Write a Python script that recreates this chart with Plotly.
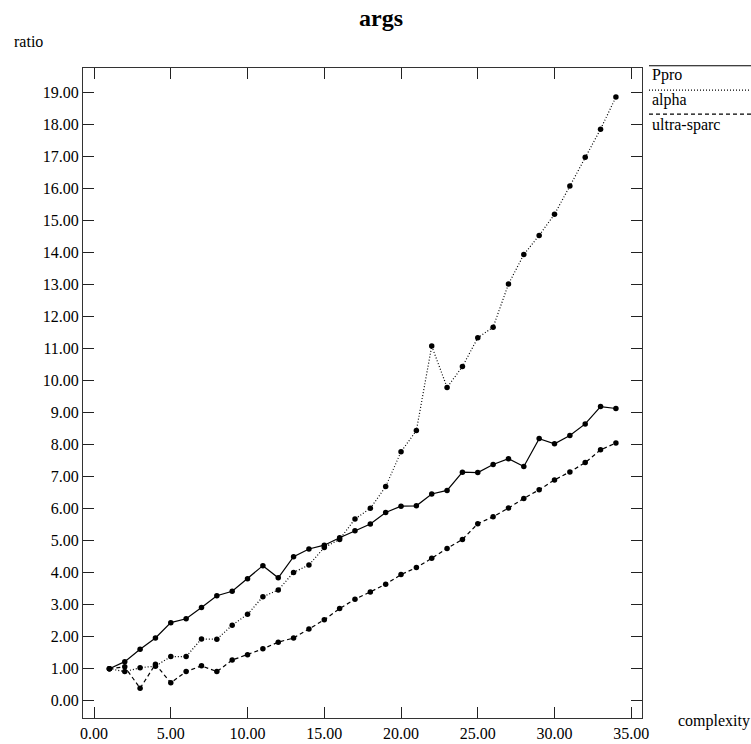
import plotly.graph_objects as go

# complexity levels (x) and measured ratios per machine
complexity = list(range(1, 35))

ppro = [1.00, 1.22, 1.61, 1.96, 2.44, 2.56, 2.91, 3.28, 3.42, 3.81,
        4.22, 3.84, 4.50, 4.74, 4.86, 5.09, 5.31, 5.52, 5.88, 6.08,
        6.09, 6.46, 6.57, 7.14, 7.13, 7.38, 7.56, 7.32, 8.19, 8.03,
        8.29, 8.65, 9.19, 9.13]

alpha = [1.00, 0.91, 1.03, 1.08, 1.38, 1.38, 1.93, 1.92, 2.36, 2.70,
         3.25, 3.46, 4.01, 4.24, 4.79, 5.04, 5.68, 6.01, 6.69, 7.78,
         8.44, 11.08, 9.79, 10.44, 11.34, 11.67, 13.02, 13.94, 14.54, 15.20,
         16.08, 16.98, 17.86, 18.86]

ultra_sparc = [1.00, 1.06, 0.39, 1.14, 0.56, 0.91, 1.09, 0.91, 1.27, 1.44,
               1.62, 1.83, 1.96, 2.24, 2.53, 2.88, 3.17, 3.40, 3.64, 3.94,
               4.16, 4.45, 4.76, 5.04, 5.53, 5.75, 6.02, 6.32, 6.59, 6.90,
               7.15, 7.44, 7.84, 8.05]

series_names = ["Ppro", "alpha", "ultra-sparc"]
series_dash = ["solid", "1px,2px", "4px,3px"]

x_ticks = [0, 5, 10, 15, 20, 25, 30, 35]
y_ticks = list(range(0, 20))

FONT = "Liberation Serif, Times New Roman, serif"

fig = go.Figure()
for name, vals, dash in zip(series_names, [ppro, alpha, ultra_sparc], series_dash):
    fig.add_trace(go.Scatter(
        x=complexity, y=vals, name=name, mode="lines+markers",
        line=dict(color="black", width=1.2, dash=dash),
        marker=dict(color="black", size=5.5),
        showlegend=False,
    ))

axis_common = dict(
    showgrid=False, zeroline=False, showline=True, mirror="ticks",
    linecolor="#333", linewidth=1, ticks="inside", ticklen=11,
    tickwidth=1, tickcolor="#222", automargin=False,
    tickfont=dict(family=FONT, size=16, color="black"),
)

fig.update_xaxes(range=[-0.72, 35.7], tickvals=x_ticks,
                 ticktext=[f"{v:.2f}" for v in x_ticks],
                 ticklabelstandoff=1, **axis_common)
fig.update_yaxes(range=[-0.54, 19.77], tickvals=y_ticks,
                 ticktext=[f"{v:.2f}" for v in y_ticks], **axis_common)

# legend drawn at the top right, outside the frame
legend_y_line = [1.0035, 0.966, 0.929]
legend_y_text = [0.989, 0.951, 0.913]
for name, dash, yl, yt in zip(series_names, series_dash, legend_y_line, legend_y_text):
    fig.add_shape(type="line", xref="paper", yref="paper",
                  x0=1.0125, x1=1.2, y0=yl, y1=yl,
                  line=dict(color="black", width=1.1, dash=dash))
    fig.add_annotation(text=name, xref="paper", yref="paper",
                       x=1.0143, y=yt, xanchor="left", yanchor="middle",
                       showarrow=False,
                       font=dict(family=FONT, size=16, color="black"))

fig.add_annotation(text="ratio", xref="paper", yref="paper",
                   x=-0.127, y=1.04, xanchor="left", yanchor="middle",
                   showarrow=False, font=dict(family=FONT, size=16, color="black"))
fig.add_annotation(text="complexity", xref="paper", yref="paper",
                   x=1.0608, y=-0.004, xanchor="left", yanchor="middle",
                   showarrow=False, font=dict(family=FONT, size=16, color="black"))

fig.update_layout(
    width=751, height=744,
    margin=dict(l=83, r=109, t=68, b=26, autoexpand=False),
    paper_bgcolor="white", plot_bgcolor="white",
    title=dict(text="<b>args</b>", x=381 / 751, xanchor="center",
               xref="container", y=1 - 18 / 744, yanchor="middle",
               font=dict(family=FONT, size=24, color="black")),
)

fig.write_html("out.html")
